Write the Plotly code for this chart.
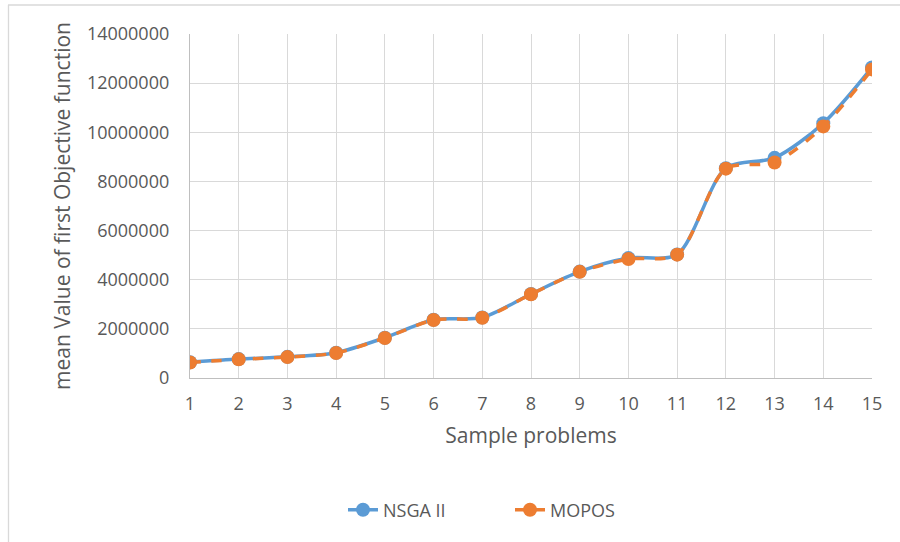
import plotly.graph_objects as go

problems = list(range(1, 16))
nsga2 = [640000, 770000, 860000, 1030000, 1640000, 2370000, 2460000, 3420000,
         4330000, 4880000, 5030000, 8540000, 8960000, 10370000, 12640000]
mopos = [630000, 760000, 850000, 1020000, 1630000, 2360000, 2450000, 3410000,
         4320000, 4840000, 5020000, 8520000, 8770000, 10240000, 12560000]
y_ticks = [0, 2000000, 4000000, 6000000, 8000000, 10000000, 12000000, 14000000]

font_family = "Open Sans, Liberation Sans, sans-serif"
txt = "#595959"

fig = go.Figure()
fig.add_trace(go.Scatter(
    x=problems, y=nsga2, name="NSGA II", mode="lines+markers",
    line=dict(color="#5B9BD5", width=3.5, shape="spline", smoothing=0.8),
    marker=dict(size=14, color="#5B9BD5"),
))
fig.add_trace(go.Scatter(
    x=problems, y=mopos, name="MOPOS", mode="lines+markers",
    line=dict(color="#ED7D31", width=3.5, dash="dash", shape="spline", smoothing=0.8),
    marker=dict(size=14, color="#ED7D31"),
))

L, R, T, B = 190, 28, 34, 164
W, H = 900, 542
pw, ph = W - L - R, H - T - B

def px_x(p):
    return (p - L) / pw

def px_y(p):
    return (H - B - p) / ph

fig.update_layout(
    width=W, height=H,
    margin=dict(l=L, r=R, t=T, b=B),
    paper_bgcolor="white", plot_bgcolor="white",
    font=dict(family=font_family, color=txt, size=18),
    showlegend=True,
    legend=dict(orientation="h", x=px_x(510), xanchor="center", y=px_y(510), yanchor="middle",
                font=dict(size=18, color=txt), entrywidth=122, entrywidthmode="pixels"),
    xaxis=dict(
        range=[1, 15], tickvals=problems, ticktext=[str(p) for p in problems],
        showgrid=True, gridcolor="#D9D9D9", gridwidth=1.3,
        showline=True, linecolor="#BFBFBF", linewidth=1.3,
        zeroline=False, ticks="outside", ticklen=9, tickcolor="rgba(0,0,0,0)",
        tickfont=dict(size=18),
        title=dict(text="Sample problems", font=dict(size=21, color=txt), standoff=14),
    ),
    yaxis=dict(
        range=[0, 14000000], tickvals=y_ticks, ticktext=[str(v) for v in y_ticks],
        showgrid=True, gridcolor="#D9D9D9", gridwidth=1.3,
        showline=True, linecolor="#BFBFBF", linewidth=1.3,
        zeroline=False, ticks="outside", ticklen=16, tickcolor="rgba(0,0,0,0)",
        tickfont=dict(size=18),
        title=dict(text="mean Value of first Objective function",
                   font=dict(size=21, color=txt), standoff=10),
    ),
)

# outer chart border (top and left edges visible)
fig.add_shape(type="line", xref="paper", yref="paper",
              x0=px_x(8), x1=px_x(W + 5), y0=px_y(5), y1=px_y(5),
              line=dict(color="#D9D9D9", width=1.3), layer="below")
fig.add_shape(type="line", xref="paper", yref="paper",
              x0=px_x(8.5), x1=px_x(8.5), y0=px_y(5), y1=px_y(H + 5),
              line=dict(color="#D9D9D9", width=1.3), layer="below")

fig.write_html("out.html")
